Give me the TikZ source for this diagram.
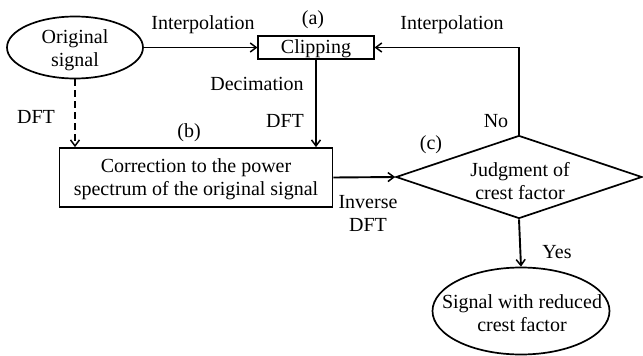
\documentclass[tikz,border=0pt]{standalone}
\usepackage{fontspec}
\setmainfont{Liberation Serif}
\usetikzlibrary{shapes.geometric,arrows.meta}
\begin{document}
\begin{tikzpicture}[x=1pt,y=-1pt,
  every node/.style={font=\fontsize{20}{23}\selectfont},
  conn/.style={line width=1.9pt,-{Straight Barb[length=6pt,width=9pt,line width=1.5pt]}},
  shp/.style={draw,line width=1.7pt,inner sep=0pt},
  lbl/.style={inner sep=0pt,align=center}]
\useasboundingbox (0,0) rectangle (643,356);
\node[shp,ellipse,minimum width=136pt,minimum height=62pt] (orig) at (75,47.5) {};
\node[lbl] (origt) at (75,50) {Original\\signal};
\node[shp,line width=1.1pt,rectangle,minimum width=116pt,minimum height=23pt] (clip) at (316,47.5) {};
\node[lbl] (clipt) at (316,49) {Clipping};
\node[shp,rectangle,minimum width=273pt,minimum height=59pt] (boxb) at (196,177.5) {};
\node[lbl] (boxbt) at (196,179) {Correction to the power\\spectrum of the original signal};
\node[shp,diamond,aspect=2.96,minimum width=246pt,minimum height=83pt] (judge) at (519,177) {};
\node[lbl] (judget) at (520,181) {Judgment of\\crest factor};
\node[shp,ellipse,minimum width=177pt,minimum height=87pt] (res) at (521,311) {};
\node[lbl] (rest) at (522,313) {Signal with reduced\\crest factor};
% labels
\node[lbl] (la) at (313,20) {(a)};
\node[lbl] (lb) at (189,133) {(b)};
\node[lbl] (lc) at (431,145) {(c)};
\node[lbl] (interp1) at (203,25) {Interpolation};
\node[lbl] (interp2) at (452,25) {Interpolation};
\node[lbl] (decim) at (257,84) {Decimation};
\node[lbl] (dft1) at (285,121) {DFT};
\node[lbl] (dft2) at (36,117) {DFT};
\node[lbl] (inv) at (368,213) {Inverse\\DFT};
\node[lbl] (no) at (496,121) {No};
\node[lbl] (yes) at (557,252) {Yes};
% connectors
\draw[conn] (orig.east) -- (clip.west);
\draw[conn,line width=1.5pt,dash pattern=on 7pt off 4pt] (orig.south) -- (orig.south |- boxb.north);
\draw[conn] (clip.south) -- (clip.south |- boxb.north);
\draw[conn] (boxb.east) -- (judge.west);
\draw[conn] (judge.north) |- (clip.east);
\draw[conn] (judge.south) -- (res.north);
\end{tikzpicture}
\end{document}
